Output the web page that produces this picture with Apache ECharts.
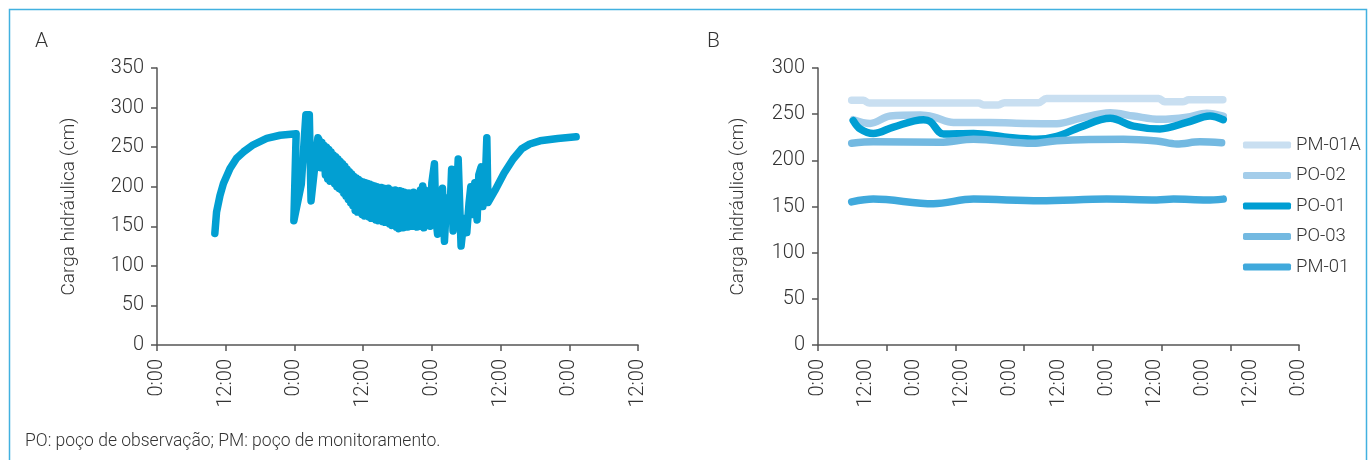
<!DOCTYPE html>
<html>
<head>
<meta charset="utf-8">
<script src="https://cdn.jsdelivr.net/npm/echarts@6/dist/echarts.min.js"></script>
<style>
  html, body { margin: 0; padding: 0; background: #fff; }
  #chart { width: 1372px; height: 460px; }
</style>
</head>
<body>
<div id="chart"></div>
<script>
// Tick labels for the time axes (hours from start, every 12 h)
const timeLabels = ['0:00', '12:00'];
const yNameA = 'Carga hidráulica (cm)';
const yNameB = 'Carga hidráulica (cm)';
const footnote = 'PO: poço de observação; PM: poço de monitoramento.';

// Panel A: hydraulic head in the pumped well, [hours, cm]
const headA = [
  [10.1, 141], [10.4, 168], [11.0, 189], [11.6, 204], [12.75, 223], [13.9, 236],
  [15.1, 244], [16.8, 253], [19.15, 261], [21.5, 265], [24.3, 267],
  [23.9, 157], [25.2, 203], [26.0, 291], [26.6, 291], [26.9, 182], [28.1, 262],
  [28.4, 258], [28.6, 224], [28.8, 256], [29.0, 228], [29.2, 252], [29.4, 215],
  [29.6, 250], [29.8, 210], [30.0, 247], [30.2, 207], [30.4, 244], [30.6, 212],
  [30.8, 240], [31.0, 204], [31.2, 238], [31.4, 200], [31.6, 235], [31.8, 198],
  [32.0, 232], [32.2, 196], [32.4, 229], [32.6, 192], [32.8, 226], [33.0, 188],
  [33.2, 222], [33.4, 184], [33.6, 219], [33.8, 180], [34.0, 216], [34.2, 176],
  [34.4, 213], [34.6, 170], [34.8, 211], [35.0, 168], [35.2, 209], [35.4, 170],
  [35.6, 207], [35.8, 165], [36.0, 206], [36.2, 163], [36.4, 205], [36.6, 166],
  [36.8, 204], [37.0, 162], [37.2, 203], [37.4, 160], [37.6, 202], [37.8, 162],
  [38.0, 201], [38.2, 158], [38.4, 200], [38.6, 157], [38.8, 199], [39.0, 160],
  [39.2, 199], [39.4, 156], [39.6, 198], [39.8, 155], [40.0, 197], [40.2, 158],
  [40.4, 198], [40.6, 153], [40.8, 196], [41.0, 151], [41.2, 195], [41.4, 155],
  [41.6, 196], [41.8, 149], [42.0, 194], [42.2, 147], [42.4, 195], [42.6, 152],
  [42.8, 194], [43.0, 148], [43.2, 193], [43.4, 151], [43.6, 192], [43.8, 149],
  [44.0, 192], [44.2, 153], [44.4, 191], [44.6, 150], [44.8, 193], [45.0, 152],
  [45.2, 190], [45.4, 149], [45.6, 191], [45.8, 155], [46.0, 196], [46.2, 150],
  [46.4, 201], [46.6, 148], [46.8, 196], [47.0, 160], [47.3, 185], [47.7, 150],
  [48.0, 205], [48.45, 229], [48.7, 160], [49.0, 140], [49.2, 175], [49.6, 155],
  [49.85, 198], [50.2, 131], [50.45, 165], [50.8, 186], [51.2, 175], [51.45, 222],
  [51.7, 144], [52.0, 185], [52.4, 200], [52.6, 235], [53.1, 125], [53.4, 145],
  [53.8, 160], [54.1, 142], [54.5, 180], [54.8, 200], [55.2, 165], [55.5, 205],
  [55.9, 158], [56.2, 215], [56.6, 225], [56.9, 175], [57.3, 200], [57.6, 262],
  [57.8, 180], [59.0, 195], [60.6, 217], [62.2, 235], [63.7, 248], [65.1, 254],
  [66.9, 258], [70.0, 261], [73.2, 263]
];

// Panel B: hydraulic head per well, [hours, cm]
const pm01a = [
  [8.4, 265], [11.3, 265], [12.8, 262], [25, 262], [40, 262], [41.5, 260], [45, 260],
  [46.5, 262.5], [55, 262.5], [57, 267], [70, 267], [85, 267], [86.5, 263.5],
  [91, 263.5], [92.5, 265.5], [101, 265.5]
];
const po02 = [
  [8.8, 244], [13, 240], [18, 248], [25.5, 249], [28.8, 247], [33.8, 241], [42.9, 241],
  [52.1, 240], [59.6, 239.7], [65.4, 245.5], [72.9, 251.6], [78.7, 248], [85.3, 244.4],
  [92, 246.6], [97, 251], [101.1, 248]
];
const po01 = [
  [8.8, 243], [10.5, 234], [13.8, 229], [18.8, 236], [26.3, 244], [28, 242],
  [31.3, 228.5], [38.8, 229], [47.1, 225], [54.6, 222.8], [59.6, 226], [65.4, 236],
  [72.9, 245.5], [78.7, 237], [85.3, 234], [92, 241], [97.8, 248], [101.1, 244]
];
const po03 = [
  [8.4, 218.5], [13.8, 220], [30.4, 219.5], [38.8, 222.8], [53.7, 218.4], [59.6, 221.3],
  [76.2, 222.8], [84.5, 221], [89.5, 217.7], [95.3, 220], [100.7, 219]
];
const pm01 = [
  [8.4, 155], [13.8, 158], [28.8, 153], [38.8, 158], [55.4, 156.3], [72, 158],
  [84.5, 157], [88.7, 158], [97, 157], [101.1, 158]
];
const seriesNamesB = ['PM-01A', 'PO-02', 'PO-01', 'PO-03', 'PM-01'];
const seriesDataB = [pm01a, po02, po01, po03, pm01];
const seriesColorsB = ['#c9dff1', '#a4cdea', '#009ed3', '#73b9e1', '#40a9dc'];

const FONT = 'Roboto, "Open Sans", sans-serif';
const TEXT = '#333333';
const AXIS = '#555555';

const timeFmt = v => timeLabels[(Math.round(v / 12)) % 2];

function yAxis(grid, max, name, gap) {
  return {
    type: 'value', gridIndex: grid, min: 0, max: max, interval: 50,
    name: name, nameLocation: 'middle', nameGap: gap, nameRotate: 90,
    nameTextStyle: { fontFamily: FONT, fontSize: 19, color: TEXT, fontWeight: 300 },
    axisLine: { show: true, lineStyle: { color: AXIS, width: 1.5 } },
    axisTick: { show: true, length: 6, lineStyle: { color: AXIS, width: 1.5 } },
    axisLabel: { margin: 13, fontFamily: FONT, fontSize: 20, color: TEXT, fontWeight: 300 },
    splitLine: { show: false }
  };
}

const option = {
  animation: false,
  backgroundColor: '#ffffff',
  textStyle: { fontFamily: FONT },
  title: [
    { text: 'A', left: 35, top: 31, padding: 0, textStyle: { fontFamily: FONT, fontSize: 21, fontWeight: 300, color: TEXT } },
    { text: 'B', left: 707, top: 31, padding: 0, textStyle: { fontFamily: FONT, fontSize: 21, fontWeight: 300, color: TEXT } },
    { text: footnote, left: 25, top: 433, padding: 0, textStyle: { fontFamily: FONT, fontSize: 17.5, fontWeight: 300, color: TEXT } }
  ],
  graphic: [
    { type: 'rect', shape: { x: 9.5, y: 9.5, width: 1357, height: 470 },
      style: { fill: 'none', stroke: '#42b1e0', lineWidth: 1.5 }, silent: true }
  ],
  grid: [
    { left: 157, top: 68, width: 481, height: 277 },
    { left: 818, top: 68, width: 481, height: 277 }
  ],
  legend: {
    orient: 'vertical', left: 1243, top: 135, padding: 0,
    itemWidth: 48, itemHeight: 7, itemGap: 10.5,
    icon: 'roundRect',
    textStyle: { fontFamily: FONT, fontSize: 18.5, color: TEXT, fontWeight: 300, lineHeight: 20 },
    data: seriesNamesB
  },
  xAxis: [
    {
      type: 'value', gridIndex: 0, min: 0, max: 84, interval: 12,
      axisLine: { show: true, onZero: false, lineStyle: { color: AXIS, width: 1.5 } },
      axisTick: { show: true, length: 6, lineStyle: { color: AXIS, width: 1.5 } },
      axisLabel: { rotate: 90, margin: 14, formatter: timeFmt, fontFamily: FONT, fontSize: 20, color: TEXT, fontWeight: 300 },
      splitLine: { show: false }
    },
    {
      type: 'value', gridIndex: 1, min: 0, max: 120, interval: 12,
      axisLine: { show: true, onZero: false, lineStyle: { color: AXIS, width: 1.5 } },
      axisTick: { show: false },
      axisLabel: { rotate: 90, margin: 14, formatter: timeFmt, fontFamily: FONT, fontSize: 20, color: TEXT, fontWeight: 300 },
      splitLine: { show: false }
    },
    {
      // major tick marks of panel B (seven evenly spaced divisions)
      type: 'value', gridIndex: 1, min: 0, max: 7, interval: 1, position: 'bottom',
      axisLine: { show: false, onZero: false },
      axisTick: { show: true, length: 6, lineStyle: { color: AXIS, width: 1.5 } },
      axisLabel: { show: false },
      splitLine: { show: false }
    }
  ],
  yAxis: [
    yAxis(0, 350, yNameA, 78),
    yAxis(1, 300, yNameB, 70)
  ],
  series: [
    {
      name: 'A', type: 'line', xAxisIndex: 0, yAxisIndex: 0,
      data: headA, showSymbol: false, symbol: 'none',
      lineStyle: { color: '#029fd2', width: 7.5, cap: 'round', join: 'round' },
      itemStyle: { color: '#029fd2' }
    }
  ].concat(seriesNamesB.map((n, i) => ({
    name: n, type: 'line', xAxisIndex: 1, yAxisIndex: 1,
    data: seriesDataB[i], showSymbol: false, symbol: 'none', smooth: 0.35,
    lineStyle: { color: seriesColorsB[i], width: 7.5, cap: 'round', join: 'round' },
    itemStyle: { color: seriesColorsB[i] }
  })))
};

const chart = echarts.init(document.getElementById('chart'), null, { renderer: 'canvas' });
chart.setOption(option);
</script>
</body>
</html>
